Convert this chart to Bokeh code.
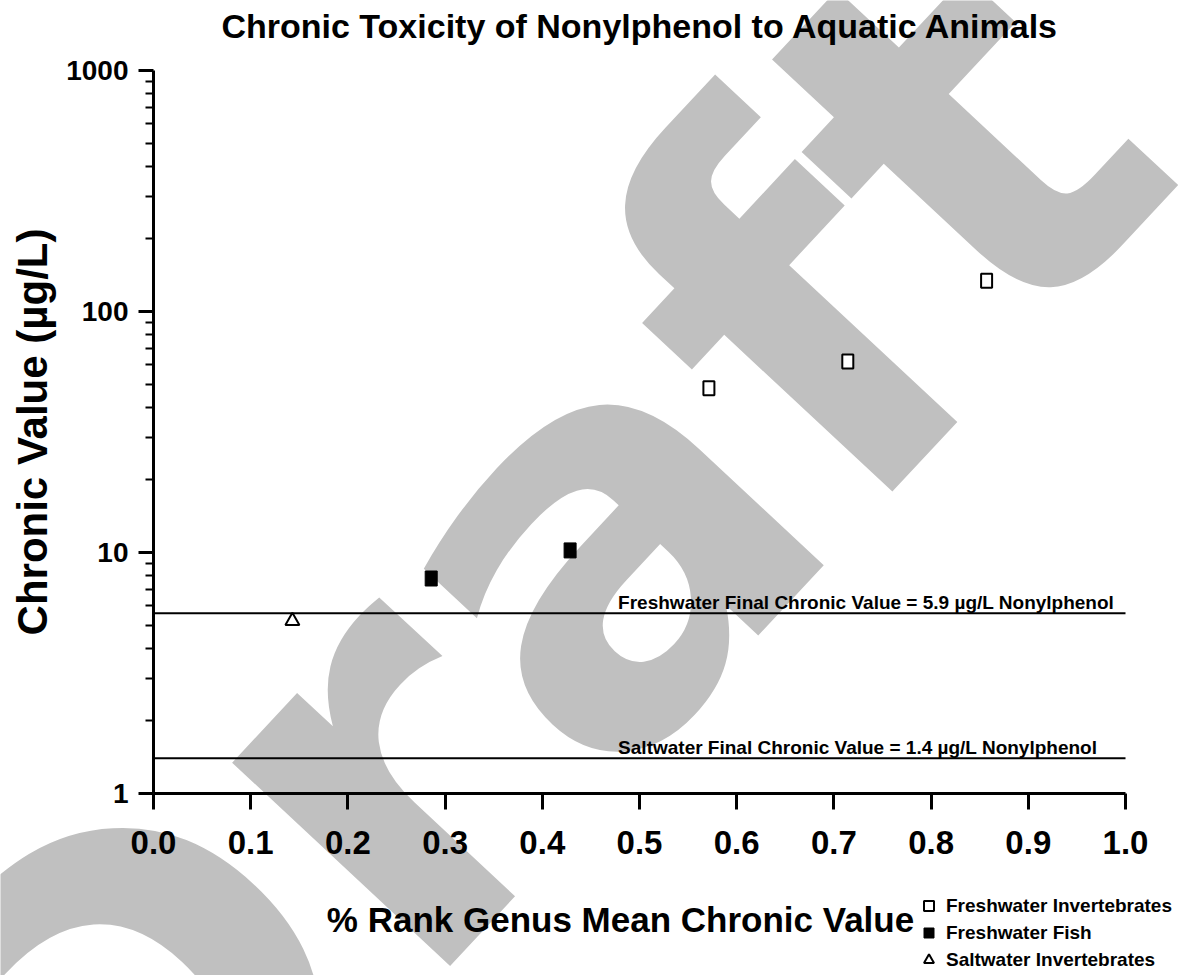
from math import pi
from bokeh.plotting import figure
from bokeh.models import (Range1d, FixedTicker, PrintfTickFormatter, Label,
                          Legend, LegendItem)
from bokeh.core.properties import value
from bokeh.embed import file_html
from bokeh.resources import INLINE

# ---------------- data ----------------
x_ticks = [0.0, 0.1, 0.2, 0.3, 0.4, 0.5, 0.6, 0.7, 0.8, 0.9, 1.0]
y_ticks = [1, 10, 100, 1000]
y_minor = [m * 10 ** k for k in range(0, 3) for m in range(2, 10)]

rank_inv = [0.5714, 0.7143, 0.8571]      # Freshwater Invertebrates
gmcv_inv = [48.0, 62.0, 134.0]
rank_fish = [0.2857, 0.4286]             # Freshwater Fish
gmcv_fish = [7.8, 10.2]
rank_salt = [0.1429]                     # Saltwater Invertebrates
gmcv_salt = [5.2]

criteria_values = [5.6, 1.4]
criteria_x0 = [0.0, 0.0]
criteria_x1 = [1.0, 1.0]
criteria_labels = ["Freshwater Final Chronic Value = 5.9 \u00b5g/L Nonylphenol",
                   "Saltwater Final Chronic Value = 1.4 \u00b5g/L Nonylphenol"]
criteria_label_x = [0.478, 0.478]

legend_labels = ["Freshwater Invertebrates", "Freshwater Fish", "Saltwater Invertebrates"]

FONT = "Liberation Sans"

# ---------------- layout (pixels) ----------------
W, H = 1180, 975
AX_L, AX_R = 153.0, 1125.0     # x = 0 and x = 1
AX_B, DEC = 793.0, 241.0       # y = 1 and pixels per decade


def dx(px):
    return (px - AX_L) / (AX_R - AX_L)


def dy(py):
    return 10 ** ((AX_B - py) / DEC)


p = figure(width=W, height=H,
           x_range=Range1d(dx(0), dx(W)), y_range=Range1d(dy(H), dy(0)),
           y_axis_type="log", output_backend="svg", toolbar_location=None,
           min_border=0, min_border_left=0, min_border_right=0,
           min_border_top=0, min_border_bottom=0)
p.outline_line_color = None
p.grid.visible = False
p.background_fill_color = "white"
p.border_fill_color = "white"

# watermark
p.add_layout(Label(x=dx(513), y=dy(621), text="Draft", angle=47 * pi / 180, text_align="center",
                   text_baseline="alphabetic", text_font_size="545px", text_font="DejaVu Sans",
                   text_font_style="bold", text_color="#C0C0C0", level="underlay"))

# x axis
xa = p.xaxis[0]
xa.fixed_location = 1
xa.bounds = (0, 1)
xa.ticker = FixedTicker(ticks=x_ticks)
xa.formatter = PrintfTickFormatter(format="%.1f")
xa.axis_line_width = 3
xa.major_tick_line_width = 3
xa.major_tick_out = 16
xa.major_tick_in = 0
xa.minor_tick_out = 0
xa.minor_tick_in = 0
xa.major_label_text_font = FONT
xa.major_label_text_font_style = "bold"
xa.major_label_text_font_size = "33px"
xa.major_label_text_color = "black"
xa.major_label_standoff = 21

# y axis
ya = p.yaxis[0]
ya.fixed_location = 0
ya.bounds = (1, 1000)
ya.ticker = FixedTicker(ticks=y_ticks, minor_ticks=y_minor)
ya.formatter = PrintfTickFormatter(format="%d")
ya.axis_line_width = 3
ya.major_tick_line_width = 3
ya.minor_tick_line_width = 2
ya.major_tick_out = 15
ya.major_tick_in = 0
ya.minor_tick_out = 8
ya.minor_tick_in = 0
ya.major_label_text_font = FONT
ya.major_label_text_font_style = "bold"
ya.major_label_text_font_size = "28px"
ya.major_label_text_color = "black"
ya.major_label_standoff = 10
ya.axis_label = "Chronic Value (\u00b5g/L)"
ya.axis_label_text_font = FONT
ya.axis_label_text_font_style = "bold"
ya.axis_label_text_font_size = "42px"
ya.axis_label_text_color = "black"
ya.axis_label_standoff = 7

# criteria lines
p.segment(x0=criteria_x0, x1=criteria_x1, y0=criteria_values, y1=criteria_values,
          line_color="black", line_width=2)
p.text(x=criteria_label_x, y=criteria_values, text=criteria_labels,
       text_font=value(FONT), text_font_style="bold", text_font_size="19px",
       text_baseline="alphabetic", text_align="left", y_offset=-11, text_color="black")

# legend symbol carriers (zero size on the plot; legend draws its own symbol size)
k1 = p.scatter(x=rank_inv, y=gmcv_inv, marker="square", size=0, fill_color="white",
               line_color="black", line_width=2)
k2 = p.scatter(x=rank_fish, y=gmcv_fish, marker="square", size=0, fill_color="black",
               line_color="black", line_width=1)

# data marks
p.rect(x=rank_inv, y=gmcv_inv, width=11, height=14, width_units="screen", height_units="screen",
       fill_color="white", line_color="black", line_width=2)
p.rect(x=rank_fish, y=gmcv_fish, width=12, height=15, width_units="screen", height_units="screen",
       fill_color="black", line_color="black", line_width=1)
k3 = p.scatter(x=rank_salt, y=gmcv_salt, marker="triangle", size=14,
               fill_color="white", line_color="black", line_width=2)

# title and x label
p.add_layout(Label(x=dx(640), y=dy(25), text="Chronic Toxicity of Nonylphenol to Aquatic Animals",
                   text_align="center", text_baseline="alphabetic", text_font=FONT,
                   text_font_style="bold", text_font_size="34px", text_color="black"))
p.add_layout(Label(x=dx(620), y=dy(919), text="% Rank Genus Mean Chronic Value",
                   text_align="center", text_baseline="alphabetic", text_font=FONT,
                   text_font_style="bold", text_font_size="35px", text_color="black"))

legend = Legend(items=[LegendItem(label=legend_labels[0], renderers=[k1]),
                       LegendItem(label=legend_labels[1], renderers=[k2]),
                       LegendItem(label=legend_labels[2], renderers=[k3])],
                location=(916, 3), glyph_width=25, glyph_height=25, label_height=25,
                spacing=2, padding=0, margin=0, label_standoff=5,
                label_text_font=FONT, label_text_font_style="bold", label_text_font_size="19px",
                label_text_color="black", border_line_color=None, background_fill_alpha=0)
p.add_layout(legend)

open("out.html", "w").write(file_html(p, INLINE))
